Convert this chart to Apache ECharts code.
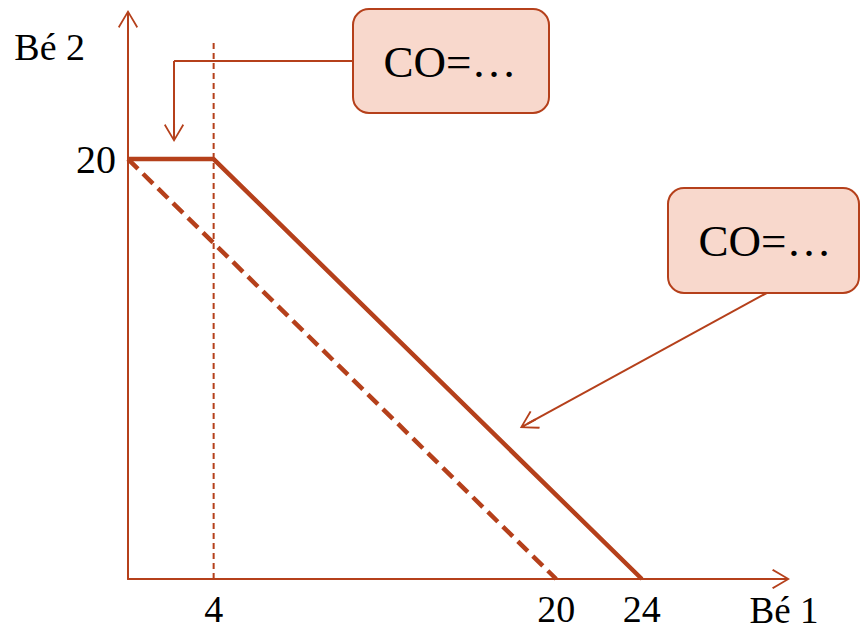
<!DOCTYPE html>
<html>
<head>
<meta charset="utf-8">
<script src="https://cdn.jsdelivr.net/npm/echarts@6/dist/echarts.min.js"></script>
<style>
  html, body { margin: 0; padding: 0; background: #ffffff; }
  #chart { width: 860px; height: 634px; }
</style>
</head>
<body>
<div id="chart"></div>
<script>
// budget line data (Bé 1 on x, Bé 2 on y)
const kinkX = [0, 4, 24];
const kinkY = [20, 20, 0];
const oldX = [0, 20];
const oldY = [20, 0];
const guideX = [4, 4];
const guideY = [0, 25.7];
const xTicks = [4, 20, 24];
const yTicks = [20];
const calloutText = ['CO=…', 'CO=…'];

const red = '#b5401b';
const serif = '"Liberation Serif", "DejaVu Serif", serif';

// open chevron with a stem, pointing up
const chevron = 'path://M50,0 L100,84 L93,90 L55,25 L55,90 L45,90 L45,25 L7,90 L0,84 Z';

const chart = echarts.init(document.getElementById('chart'), null, { renderer: 'svg' });

const option = {
    animation: false,
    grid: { left: 128, right: 79, top: 19, bottom: 55 },
    xAxis: {
        type: 'value',
        min: 0,
        max: 30.5,
        name: 'Bé 1',
        nameLocation: 'end',
        nameGap: 3,
        nameTextStyle: {
            fontFamily: serif, fontSize: 37, lineHeight: 32, color: '#000',
            align: 'center', verticalAlign: 'top', padding: [15, 0, 0, 0]
        },
        axisLine: {
            lineStyle: { color: red, width: 2 },
            symbol: ['none', chevron],
            symbolSize: [20, 18]
        },
        axisTick: { show: false },
        splitLine: { show: false },
        axisLabel: {
            customValues: xTicks,
            margin: 13,
            fontFamily: serif, fontSize: 38, lineHeight: 34, color: '#000'
        }
    },
    yAxis: {
        type: 'value',
        min: 0,
        max: 26.67,
        name: 'Bé 2',
        nameLocation: 'end',
        nameGap: -28,
        nameTextStyle: {
            fontFamily: serif, fontSize: 38, color: '#000',
            align: 'right', verticalAlign: 'middle', padding: [0, 43, 0, 0]
        },
        axisLine: {
            show: true,
            lineStyle: { color: red, width: 2 },
            symbol: ['none', chevron],
            symbolSize: [20, 18]
        },
        axisTick: { show: false },
        splitLine: { show: false },
        axisLabel: {
            customValues: yTicks,
            margin: 12,
            padding: [12, 0, 0, 0],
            fontFamily: serif, fontSize: 40, color: '#000'
        }
    },
    series: [
        {
            type: 'line',
            data: guideX.map((x, i) => [x, guideY[i]]),
            symbol: 'none',
            lineStyle: { color: red, width: 2, type: [6, 4] },
            silent: true
        },
        {
            type: 'line',
            data: oldX.map((x, i) => [x, oldY[i]]),
            symbol: 'none',
            lineStyle: { color: red, width: 4.5, type: [14, 7] },
            silent: true
        },
        {
            type: 'line',
            data: kinkX.map((x, i) => [x, kinkY[i]]),
            symbol: 'none',
            lineStyle: { color: red, width: 4.5 },
            silent: true,
            markLine: {
                silent: true,
                symbol: ['none', chevron],
                symbolSize: [20, 18],
                label: { show: false },
                lineStyle: { color: red, width: 2, type: 'solid' },
                data: [
                    [{ coord: [10.5, 24.67], symbol: 'none' }, { coord: [2.15, 24.67], symbol: 'none' }],
                    [{ coord: [2.15, 24.67], symbol: 'none' }, { coord: [2.15, 21.24] }],
                    [{ coord: [29.83, 13.62], symbol: 'none' }, { coord: [18.67, 7.4] }]
                ]
            }
        }
    ],
    graphic: [
        {
            type: 'rect',
            shape: { x: 353, y: 9, width: 196, height: 104, r: 16 },
            style: { fill: '#f8d8cc', stroke: red, lineWidth: 2 },
            z: 10
        },
        {
            type: 'text',
            x: 450, y: 62,
            style: {
                text: calloutText[0], fontFamily: serif, fontSize: 45, fill: '#000',
                align: 'center', verticalAlign: 'middle'
            },
            z: 11
        },
        {
            type: 'rect',
            shape: { x: 668, y: 188, width: 191, height: 105, r: 16 },
            style: { fill: '#f8d8cc', stroke: red, lineWidth: 2 },
            z: 10
        },
        {
            type: 'text',
            x: 765, y: 241,
            style: {
                text: calloutText[1], fontFamily: serif, fontSize: 45, fill: '#000',
                align: 'center', verticalAlign: 'middle'
            },
            z: 11
        }
    ]
};

chart.setOption(option);
</script>
</body>
</html>
